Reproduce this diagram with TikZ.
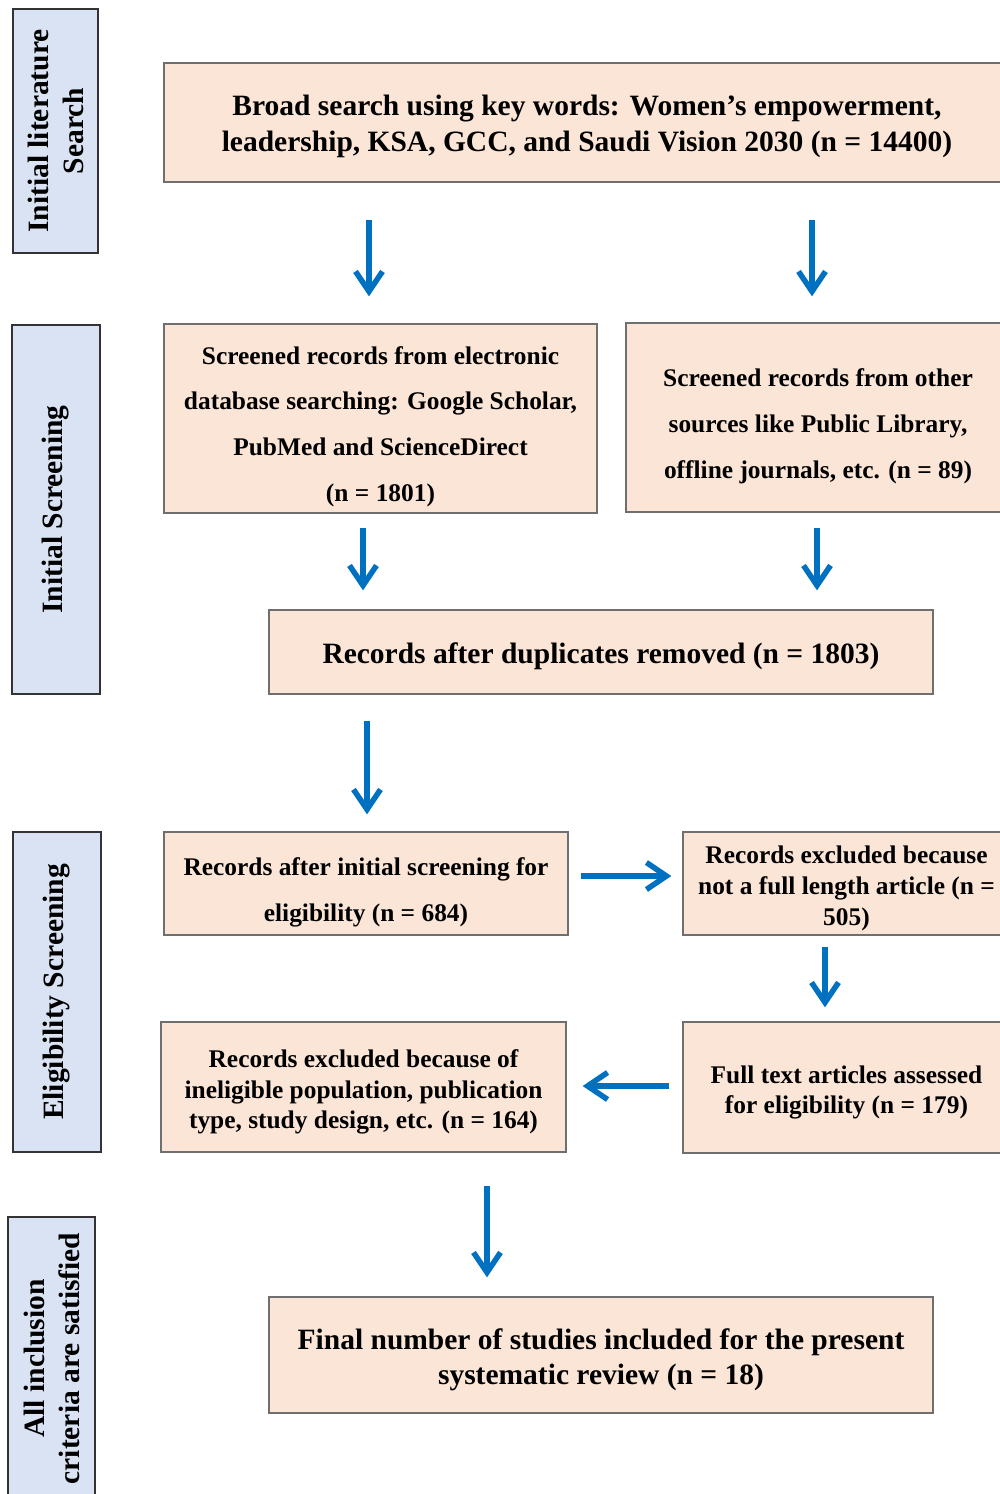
\documentclass[tikz,border=0pt]{standalone}
\usepackage{fontspec}
\setmainfont{Liberation Serif}
\usetikzlibrary{arrows.meta}
\definecolor{peach}{HTML}{FBE5D6}
\definecolor{lblue}{HTML}{DAE3F3}
\definecolor{arrowblue}{HTML}{0070C0}
\definecolor{boxborder}{HTML}{6F6F6F}
\definecolor{lblborder}{HTML}{333333}
\begin{document}
\begin{tikzpicture}[x=1pt,y=-1pt,
  box/.style={draw=boxborder,fill=peach,line width=1.3pt,inner sep=0pt},
  tx/.style={align=center,inner sep=0pt},
  big/.style={font=\fontsize{29.5}{35.5}\selectfont\bfseries},
  wide/.style={font=\fontsize{25.4}{45.8}\selectfont\bfseries},
  tight/.style={font=\fontsize{25.4}{30.8}\selectfont\bfseries},
  lbl/.style={draw=lblborder,fill=lblue,line width=1.6pt,rotate=90,align=center,inner sep=0pt,
    font=\fontsize{29.5}{35}\selectfont\bfseries},
  arr/.style={draw=arrowblue,line width=5.5pt,-{Straight Barb[length=20pt,width=27pt]}}]
\clip (0,0) rectangle (1000,1494);
\fill[white] (0,0) rectangle (1000,1494);
% side labels
\node[lbl,minimum width=244pt,minimum height=85pt] (L1) at (55.5,131) {Initial literature\\Search};
\node[lbl,minimum width=369pt,minimum height=88pt] (L2) at (56,509.5) {Initial Screening};
\node[lbl,minimum width=320pt,minimum height=88pt] (L3) at (57,992) {Eligibility Screening};
\node[lbl,minimum width=283pt,minimum height=87pt] (L4) at (51.5,1358.5) {All inclusion\\criteria are satisfied};
% boxes
\node[box,minimum width=846pt,minimum height=119pt,
  label={[tx,big,yshift=-4pt]center:{Broad search using key words: Women’s empowerment,\\leadership, KSA, GCC, and Saudi Vision 2030 (n = 14400)}}] (B1) at (587,122.5) {};
\node[box,minimum width=433pt,minimum height=189pt,
  label={[tx,wide,yshift=-8pt]center:{Screened records from electronic\\database searching: Google Scholar,\\PubMed and ScienceDirect\\(n = 1801)}}] (B2) at (380.5,418.5) {};
\node[box,minimum width=384pt,minimum height=189pt,
  label={[tx,wide,yshift=-9pt]center:{Screened records from other\\sources like Public Library,\\offline journals, etc. (n = 89)}}] (B3) at (818,417.5) {};
\node[box,minimum width=664pt,minimum height=84pt,
  label={[tx,big,yshift=-4pt]center:{Records after duplicates removed (n = 1803)}}] (B4) at (601,652) {};
\node[box,minimum width=404pt,minimum height=103pt,
  label={[tx,wide,yshift=-9pt]center:{Records after initial screening for\\eligibility (n = 684)}}] (B5) at (366,883.5) {};
\node[box,minimum width=327pt,minimum height=103pt,
  label={[tx,tight,yshift=-5pt]center:{Records excluded because\\not a full length article (n =\\505)}}] (B6) at (846.5,883.5) {};
\node[box,minimum width=327pt,minimum height=131pt,
  label={[tx,tight,yshift=-5pt]center:{Full text articles assessed\\for eligibility (n = 179)}}] (B7) at (846.5,1087.5) {};
\node[box,minimum width=405pt,minimum height=130pt,
  label={[tx,tight,yshift=-5pt]center:{Records excluded because of\\ineligible population, publication\\type, study design, etc. (n = 164)}}] (B8) at (363.5,1087) {};
\node[box,minimum width=664pt,minimum height=116pt,
  label={[tx,big,yshift=-5pt]center:{Final number of studies included for the present\\systematic review (n = 18)}}] (B9) at (601,1355) {};
% reference coordinates for arrow lines
\coordinate (x1) at (369,0);
\coordinate (x2) at (812,0);
\coordinate (x3) at (363,0);
\coordinate (x4) at (817,0);
\coordinate (x5) at (367,0);
\coordinate (y6) at (0,876);
\coordinate (x7) at (825,0);
\coordinate (y8) at (0,1086);
\coordinate (x9) at (487,0);
% arrows
\draw[arr,shorten <=37pt,shorten >=27pt] (B1.south -| x1) -- (B2.north -| x1);
\draw[arr,shorten <=37pt,shorten >=26pt] (B1.south -| x2) -- (B3.north -| x2);
\draw[arr,shorten <=14pt,shorten >=19pt] (B2.south -| x3) -- (B4.north -| x3);
\draw[arr,shorten <=15pt,shorten >=19pt] (B3.south -| x4) -- (B4.north -| x4);
\draw[arr,shorten <=26pt,shorten >=17pt] (B4.south -| x5) -- (B5.north -| x5);
\draw[arr,shorten <=12pt,shorten >=11pt] (B5.east |- y6) -- (B6.west |- y6);
\draw[arr,shorten <=11pt,shorten >=14pt] (B6.south -| x7) -- (B7.north -| x7);
\draw[arr,shorten <=13pt,shorten >=16pt] (B7.west |- y8) -- (B8.east |- y8);
\draw[arr,shorten <=33pt,shorten >=19pt] (B8.south -| x9) -- (B9.north -| x9);
\end{tikzpicture}
\end{document}
